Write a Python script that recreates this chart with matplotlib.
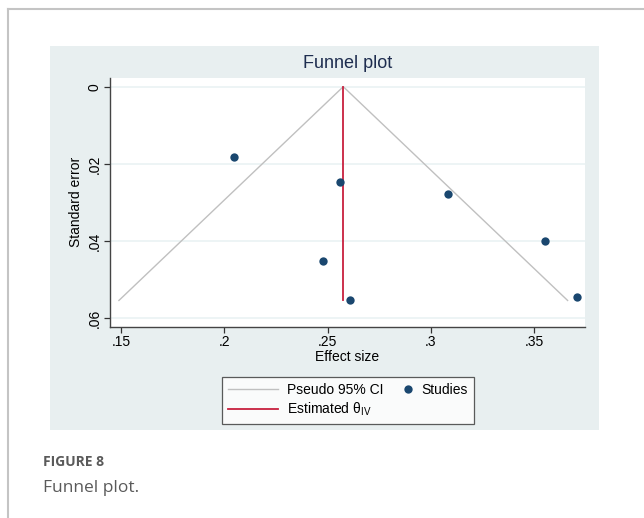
import numpy as np
import matplotlib.pyplot as plt
from matplotlib.patches import Rectangle
from matplotlib.lines import Line2D
from matplotlib.legend_handler import HandlerLine2D

# study estimates and their standard errors
effect = [0.2048, 0.2560, 0.2479, 0.2608, 0.3084, 0.3552, 0.3706]
se = [0.0181, 0.0248, 0.0452, 0.0554, 0.0278, 0.0400, 0.0544]

# pooled (inverse-variance) estimate
theta_iv = 0.2576

xticks = [0.15, 0.20, 0.25, 0.30, 0.35]
xtick_labels = [".15", ".2", ".25", ".3", ".35"]
yticks = [0.0, 0.02, 0.04, 0.06]
ytick_labels = ["0", ".02", ".04", ".06"]

plt.rcParams['font.family'] = ['Liberation Sans', 'DejaVu Sans']
plt.rcParams['mathtext.fontset'] = 'custom'
plt.rcParams['mathtext.rm'] = 'Liberation Sans'


class DotRight(HandlerLine2D):
    # put the legend marker at the right end of its handle box
    def create_artists(self, legend, orig_handle, xdescent, ydescent,
                       width, height, fontsize, trans):
        arts = super().create_artists(legend, orig_handle, xdescent, ydescent,
                                      width, height, fontsize, trans)
        for a in arts:
            a.set_xdata(np.full(len(a.get_xdata()), width - xdescent - 3))
        return arts


W, H = 644, 518
fig = plt.figure(figsize=(W / 100, H / 100), dpi=100)
fig.patch.set_facecolor('white')

# page frame (left and top rules)
fig.add_artist(Line2D([8 / W, 8 / W], [0, 1 - 9 / H], color='#c4c4c4', lw=1.5))
fig.add_artist(Line2D([8 / W, 1], [1 - 9 / H, 1 - 9 / H], color='#c4c4c4', lw=1.5))

# graph region background
fig.add_artist(Rectangle((50 / W, 1 - 430 / H), 549 / W, 384 / H,
                         transform=fig.transFigure, facecolor='#e8eff0',
                         edgecolor='none', zorder=0))

ax = fig.add_axes([110 / W, 1 - 326.7 / H, 475 / W, 248.7 / H])
ax.set_facecolor('white')

# pseudo 95% confidence limits
se_max = max(se)
ci, = ax.plot([theta_iv - 1.96 * se_max, theta_iv, theta_iv + 1.96 * se_max],
              [se_max, 0, se_max], color='#c0c0c0', lw=1.0, zorder=2)
est, = ax.plot([theta_iv, theta_iv], [0, se_max], color='#c8203e', lw=1.3, zorder=3)
ax.scatter(effect, se, s=36, color='#1a476f', zorder=4, linewidths=0)
studies = Line2D([], [], ls='none', marker='o', ms=6, color='#1a476f',
                 markeredgewidth=0)

ax.set_xlim(0.1447, 0.3746)
ax.set_ylim(0.0622, -0.00225)

ax.set_xticks(xticks)
ax.set_xticklabels(xtick_labels)
ax.set_yticks(yticks)
ax.set_yticklabels(ytick_labels, rotation=90, va='center')
ax.tick_params(axis='both', labelsize=10, color='#333333', length=4,
               width=0.9, labelcolor='black')
ax.tick_params(axis='x', pad=2)
ax.tick_params(axis='y', pad=2)

ax.grid(True, axis='y', color='#eaf2f3', lw=1.2, zorder=0)
for s in ['top', 'right']:
    ax.spines[s].set_visible(False)
for s in ['left', 'bottom']:
    ax.spines[s].set_color('#444444')
    ax.spines[s].set_linewidth(1.0)

ax.set_xlabel("Effect size", fontsize=10, labelpad=1)
ax.set_ylabel("Standard error", fontsize=10, labelpad=3)

fig.text(347.5 / W, 1 - 63 / H, "Funnel plot", ha='center', va='center',
         fontsize=13, color='#1e2d4f')

leg = fig.legend([ci, est, studies],
                 ["Pseudo 95% CI", "Estimated θ$_{\\mathrm{IV}}$", "Studies"],
                 ncol=2, loc='center', bbox_to_anchor=(348 / W, 1 - 400.5 / H),
                 fontsize=10, frameon=True, fancybox=False, handlelength=3.6,
                 handletextpad=0.65, columnspacing=-1.55, labelspacing=0.25,
                 borderpad=0.45, handler_map={studies: DotRight()})
leg.get_frame().set_edgecolor('#333333')
leg.get_frame().set_linewidth(0.9)

# figure caption
fig.text(43 / W, 1 - 462 / H, "FIGURE 8", fontsize=10, fontweight='bold',
         color='#5a5a5a', family='Open Sans', va='center')
fig.text(43 / W, 1 - 488 / H, "Funnel plot.", fontsize=12.5,
         color='#5a5a5a', family='Open Sans', va='center')

fig.savefig("out.png", dpi=100)
